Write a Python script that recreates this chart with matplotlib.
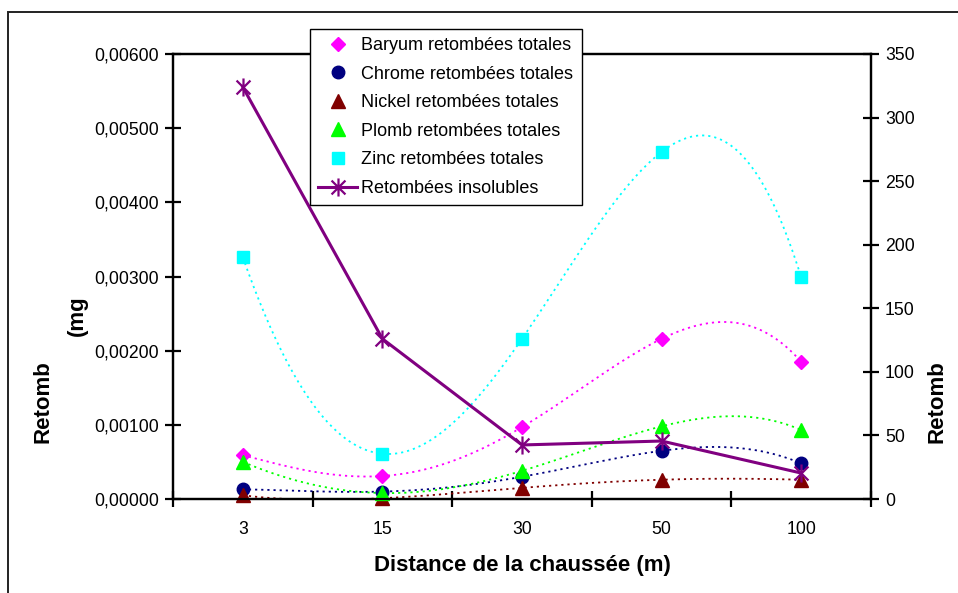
import numpy as np
import matplotlib
matplotlib.use("Agg")
import matplotlib.pyplot as plt
from matplotlib.path import Path
from matplotlib.patches import Rectangle
from matplotlib.ticker import FuncFormatter, FixedLocator

plt.rcParams['font.family'] = ['Liberation Sans', 'DejaVu Sans']

# Data
distances = ['3', '15', '30', '50', '100']
baryum = [0.00059, 0.00031, 0.00097, 0.00216, 0.00185]
chrome = [0.00013, 0.00010, 0.00030, 0.00065, 0.00048]
nickel = [0.00005, 0.00001, 0.00015, 0.00026, 0.00026]
plomb = [0.00050, 0.00008, 0.00038, 0.00098, 0.00093]
zinc = [0.00326, 0.00061, 0.00216, 0.00468, 0.00299]
insolubles = [324, 126, 42.5, 45.6, 20.4]

# (label, values, colour, marker, markersize)
metals = [
    ('Baryum retombées totales', baryum, '#FF00FF', 'D', 7.5),
    ('Chrome retombées totales', chrome, '#000080', 'o', 9),
    ('Nickel retombées totales', nickel, '#800000', '^', 10),
    ('Plomb retombées totales', plomb, '#00FF00', '^', 10),
    ('Zinc retombées totales', zinc, '#00FFFF', 's', 9),
]

# Excel-like star marker: an X with a vertical bar
star = Path([(-1, -1), (1, 1), (-1, 1), (1, -1), (0, -1.3), (0, 1.3)],
            [Path.MOVETO, Path.LINETO, Path.MOVETO, Path.LINETO,
             Path.MOVETO, Path.LINETO])

fig = plt.figure(figsize=(9.58, 5.93), dpi=100)
ax = fig.add_axes([173 / 958, 1 - 499 / 593, (871 - 173) / 958, (499 - 54) / 593])
ax2 = ax.twinx()

xi = np.arange(len(distances))
xs = np.linspace(0, len(distances) - 1, 200)

handles = []
for label, vals, col, mk, ms in metals:
    # 4th order polynomial trendline (dotted), markers only for the series
    coef = np.polyfit(xi, vals, 4)
    ax.plot(xs, np.polyval(coef, xs), color=col, lw=1.3,
            linestyle=(0, (1.2, 2.2)), zorder=2)
    h, = ax.plot(xi, vals, linestyle='none', marker=mk, ms=ms,
                 color=col, mec=col, label=label, zorder=3, clip_on=False)
    handles.append(h)

h2, = ax2.plot(xi, insolubles, color='#800080', lw=2.2, marker=star, ms=13,
               mew=1.6, label='Retombées insolubles', zorder=4, clip_on=False)
handles.append(h2)

ax.set_xlim(-0.5, len(distances) - 0.5)
ax.set_ylim(0, 0.006)
ax2.set_ylim(0, 350)

ax.set_yticks(np.arange(0, 0.0061, 0.001))
ax.yaxis.set_major_formatter(FuncFormatter(lambda v, p: f"{v:.5f}".replace('.', ',')))
ax2.set_yticks(np.arange(0, 351, 50))

# category axis: ticks between categories, labels at the centres
ax.xaxis.set_major_locator(FixedLocator(np.arange(-0.5, len(distances), 1.0)))
ax.xaxis.set_major_formatter(FuncFormatter(lambda v, p: ''))
ax.xaxis.set_minor_locator(FixedLocator(xi))
ax.set_xticklabels(distances, minor=True)
ax.tick_params(axis='x', which='minor', length=0, pad=16, labelsize=12.7)
ax.tick_params(axis='x', which='major', direction='inout', length=12, width=1.6)
ax.tick_params(axis='y', direction='inout', length=12, width=1.6, labelsize=12.7, pad=4)
ax2.tick_params(axis='y', direction='inout', length=12, width=1.6, labelsize=12.7, pad=4)

for a in (ax, ax2):
    for s in a.spines.values():
        s.set_linewidth(1.6)

ax.set_xlabel('Distance de la chaussée (m)', fontsize=16, fontweight='bold')
ax.xaxis.set_label_coords(0.5, -0.125)

fig.text(43 / 958, 1 - 402 / 593, 'Retomb', rotation=90, fontsize=16,
         fontweight='bold', ha='center', va='center')
fig.text(77 / 958, 1 - 316 / 593, '(mg', rotation=90, fontsize=16,
         fontweight='bold', ha='center', va='center')
fig.text(937 / 958, 1 - 402 / 593, 'Retomb', rotation=90, fontsize=16,
         fontweight='bold', ha='center', va='center')

leg = ax2.legend(handles=handles, loc='upper left',
                 bbox_to_anchor=(310 / 958, 1 - 29 / 593),
                 bbox_transform=fig.transFigure, fontsize=13.0, frameon=True,
                 fancybox=False, edgecolor='black', framealpha=1,
                 handlelength=2.15, handletextpad=0.25, labelspacing=0.64,
                 borderpad=0.45, borderaxespad=0)
leg.get_frame().set_linewidth(1.0)
leg.set_zorder(10)

# outer chart-area border (runs off the right and bottom edges)
fig.patches.append(Rectangle((7.5 / 958, -0.05), 1.2, 1 - 12.5 / 593 + 0.05,
                             transform=fig.transFigure, fill=False,
                             edgecolor='#222222', lw=1.4))

fig.savefig('out.png', dpi=100)
